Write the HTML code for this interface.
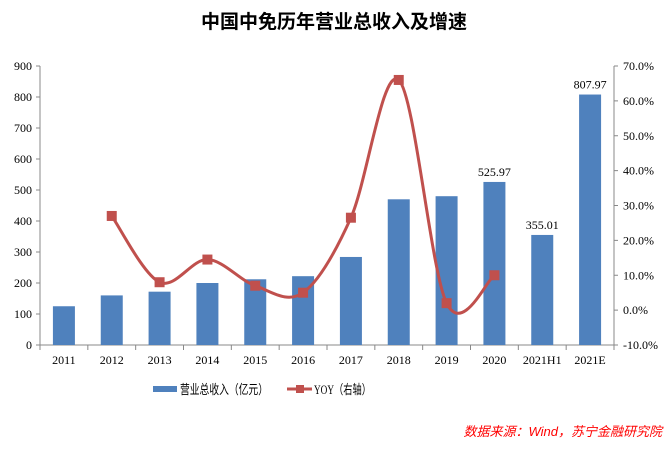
<!DOCTYPE html>
<html><head><meta charset="utf-8"><style>
body{margin:0;background:#fff;width:668px;height:446px;overflow:hidden}
svg{font-family:"Liberation Serif","Noto Serif CJK SC",serif}
</style></head><body>
<svg width="668" height="446">
<text x="334" y="28" text-anchor="middle" font-size="19" font-weight="bold" font-family="'Noto Sans CJK SC',sans-serif">中国中免历年营业总收入及增速</text>
<g id="g"></g>
<g font-family="'Liberation Serif','Noto Sans CJK SC',serif" font-size="13">
<rect x="153" y="386" width="24" height="6" fill="#4f81bd"/>
<text x="180" y="394" textLength="88" lengthAdjust="spacingAndGlyphs">营业总收入（亿元）</text>
<line x1="287" y1="389" x2="312" y2="389" stroke="#c0504d" stroke-width="3"/>
<rect x="296" y="385" width="8" height="8" fill="#c0504d"/>
<text x="314" y="394" textLength="57" lengthAdjust="spacingAndGlyphs">YOY（右轴）</text>
</g>
<text x="662" y="436" text-anchor="end" fill="#ff0000" font-style="italic" font-size="13" font-family="'Liberation Sans','Noto Sans CJK SC',sans-serif">数据来源：Wind，苏宁金融研究院</text>
</svg>
<script>
const categories=["2011","2012","2013","2014","2015","2016","2017","2018","2019","2020","2021H1","2021E"];
const revenue=[125,160,172,200,212,222,284,470,480,525.97,355.01,807.97];
const revenueLabels=[null,null,null,null,null,null,null,null,null,"525.97","355.01","807.97"];
const yoy=[null,27,8,14.5,7,5,26.5,66,2,10,null,null];
const leftTicks=[0,100,200,300,400,500,600,700,800,900];
const rightTicks=[-10,0,10,20,30,40,50,60,70];
const NS="http://www.w3.org/2000/svg";
const g=document.getElementById('g');
const X0=40,X1=614,Y0=345,Y1=66;
const bw=(X1-X0)/categories.length;
const xc=i=>X0+bw*(i+0.5);
const yL=v=>Y0-(v/900)*(Y0-Y1);
const yR=v=>Y0-((v+10)/80)*(Y0-Y1);
function el(t,a,p){const e=document.createElementNS(NS,t);for(const k in a)e.setAttribute(k,a[k]);(p||g).appendChild(e);return e;}
let ax=el('line',{x1:X0,y1:Y1,x2:X0,y2:Y0,stroke:'#888'});


ax=el('line',{x1:X1,y1:Y1,x2:X1,y2:Y0,stroke:'#888'});


ax=el('line',{x1:X0,y1:Y0,x2:X1,y2:Y0,stroke:'#888'});


leftTicks.forEach(v=>{const y=yL(v);el('line',{x1:X0-4,y1:y,x2:X0,y2:y,stroke:'#888'});
const t=el('text',{x:X0-8,y:y+4,'text-anchor':'end','font-size':12});t.textContent=v;

});
rightTicks.forEach(v=>{const y=yR(v);el('line',{x1:X1,y1:y,x2:X1+4,y2:y,stroke:'#888'});
const t=el('text',{x:X1+9,y:y+4,'font-size':12});t.textContent=v.toFixed(1)+'%';

});
categories.forEach((c,i)=>{const x=X0+bw*i;el('line',{x1:x,y1:Y0,x2:x,y2:Y0+5,stroke:'#888'});
const t=el('text',{x:xc(i),y:Y0+19,'text-anchor':'middle','font-size':12});t.textContent=c;

});
el('line',{x1:X1,y1:Y0,x2:X1,y2:Y0+5,stroke:'#888'});
revenue.forEach((v,i)=>{const r=el('rect',{x:xc(i)-11,y:yL(v),width:22,height:Y0-yL(v),fill:'#4f81bd'});


if(revenueLabels[i]){const t=el('text',{x:xc(i),y:yL(v)-6,'text-anchor':'middle','font-size':12});t.textContent=revenueLabels[i];

}});
const pts=[];yoy.forEach((v,i)=>{if(v!==null)pts.push([xc(i),yR(v)]);});
let d='M'+pts[0][0]+','+pts[0][1];
for(let i=0;i<pts.length-1;i++){const p0=pts[i-1]||pts[i],p1=pts[i],p2=pts[i+1],p3=pts[i+2]||p2;
d+=` C${p1[0]+(p2[0]-p0[0])/6},${p1[1]+(p2[1]-p0[1])/6} ${p2[0]-(p3[0]-p1[0])/6},${p2[1]-(p3[1]-p1[1])/6} ${p2[0]},${p2[1]}`;}
const ln=el('path',{d:d,fill:'none',stroke:'#c0504d','stroke-width':3});


pts.forEach(p=>{const m=el('rect',{x:p[0]-5,y:p[1]-5,width:10,height:10,fill:'#c0504d'});

});
</script>
</body></html>
